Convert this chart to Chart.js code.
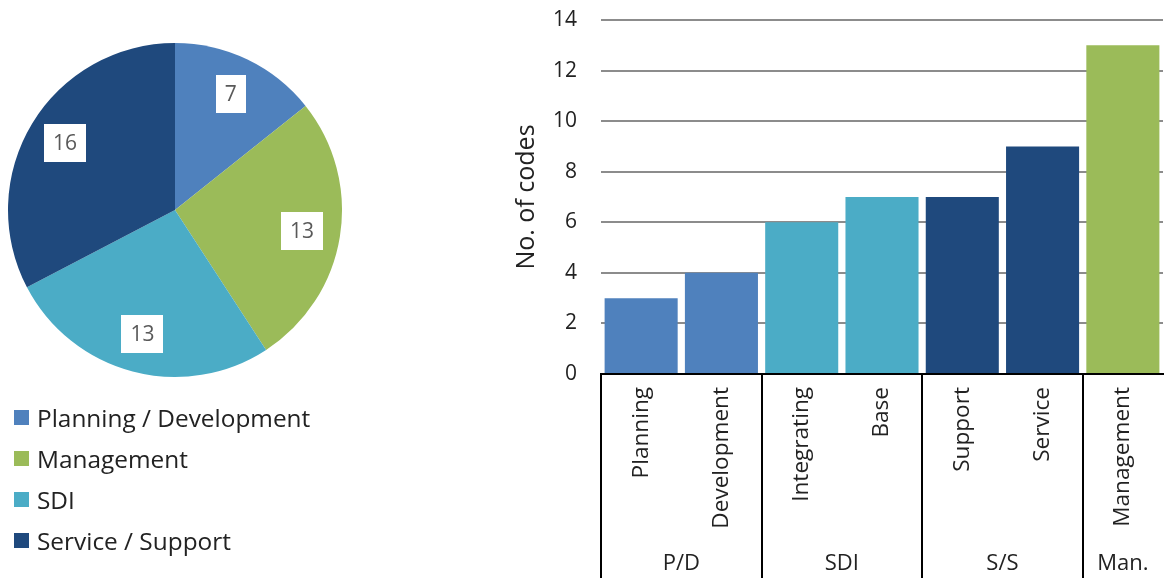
<!DOCTYPE html>
<html>
<head>
<meta charset="utf-8">
<script src="https://cdn.jsdelivr.net/npm/chart.js@4.4.1/dist/chart.umd.min.js"></script>
<style>
  html, body { margin: 0; padding: 0; width: 1164px; height: 578px; overflow: hidden; background: #fff; }
  #pieBox { position: absolute; left: 0; top: 0; width: 350px; height: 420px; }
  #barBox { position: absolute; left: 490px; top: 0; width: 674px; height: 620px; }
  #legend { position: absolute; left: 14px; top: 397px; font-family: "Open Sans", sans-serif; font-size: 24.4px; color: #222; }
  .item { height: 41px; display: flex; align-items: center; white-space: nowrap; }
  .swatch { width: 15px; height: 15px; margin-right: 8px; flex: none; }
</style>
</head>
<body>
<div id="pieBox"><canvas id="pie" width="350" height="420"></canvas></div>
<div id="legend"></div>
<div id="barBox"><canvas id="bar" width="674" height="620"></canvas></div>
<script>
// Share of codes per theme
const themeLabels = ['Planning / Development', 'Management', 'SDI', 'Service / Support'];
const themeValues = [7, 13, 13, 16];
const themeColors = ['#4F81BD', '#9BBB59', '#4BACC6', '#1F497D'];

// Codes per sub-category
const codeLabels = ['Planning', 'Development', 'Integrating', 'Base', 'Support', 'Service', 'Management'];
const codeValues = [3, 4, 6, 7, 7, 9, 13];
const codeColors = ['#4F81BD', '#4F81BD', '#4BACC6', '#4BACC6', '#1F497D', '#1F497D', '#9BBB59'];

// Group row under the sub-category labels
const groupLabels = ['P/D', 'SDI', 'S/S', 'Man.'];
const groupSizes = [2, 2, 2, 1];

// Value axis
const yMin = 0, yMax = 14, yStep = 2;

const FONT = '"Open Sans", sans-serif';
const TEXT = '#222';

// group start indices and centre positions on the category scale
const groupStarts = [];
const groupCenters = [];
groupSizes.reduce((start, n) => {
  groupStarts.push(start);
  groupCenters.push(start + (n - 1) / 2);
  return start + n;
}, 0);

// white value boxes placed inside each slice
const sliceValueBoxes = {
  id: 'sliceValueBoxes',
  afterDatasetsDraw(chart) {
    const ctx = chart.ctx;
    const values = chart.data.datasets[0].data;
    ctx.save();
    ctx.font = '21px ' + FONT;
    ctx.textAlign = 'center';
    ctx.textBaseline = 'middle';
    chart.getDatasetMeta(0).data.forEach((arc, i) => {
      const p = arc.getProps(['x', 'y', 'startAngle', 'endAngle', 'outerRadius'], true);
      const mid = (p.startAngle + p.endAngle) / 2;
      const r = p.outerRadius * 0.77;
      const cx = p.x + Math.cos(mid) * r;
      const cy = p.y + Math.sin(mid) * r;
      const text = String(values[i]);
      const w = ctx.measureText(text).width + 18;
      const h = 38;
      ctx.fillStyle = '#fff';
      ctx.fillRect(Math.round(cx - w / 2), Math.round(cy - h / 2), Math.round(w), h);
      ctx.fillStyle = '#595959';
      ctx.fillText(text, cx, cy + 1);
    });
    ctx.restore();
  }
};

const pieChart = new Chart(document.getElementById('pie'), {
  type: 'pie',
  data: {
    labels: themeLabels,
    datasets: [{ data: themeValues, backgroundColor: themeColors, borderWidth: 0 }]
  },
  options: {
    responsive: false,
    animation: false,
    layout: { padding: { left: 8, right: 8, top: 43, bottom: 43 } },
    plugins: { legend: { display: false }, tooltip: { enabled: false } }
  },
  plugins: [sliceValueBoxes]
});

// legend list built from the pie's own legend items
const legendEl = document.getElementById('legend');
pieChart.options.plugins.legend.labels.generateLabels(pieChart).forEach(item => {
  const row = document.createElement('div');
  row.className = 'item';
  const sw = document.createElement('span');
  sw.className = 'swatch';
  sw.style.background = item.fillStyle;
  const label = document.createElement('span');
  label.textContent = item.text;
  row.appendChild(sw);
  row.appendChild(label);
  legendEl.appendChild(row);
});

// frame lines of the two-level category axis
const groupFrame = {
  id: 'groupFrame',
  afterDraw(chart) {
    const { ctx, chartArea } = chart;
    const x = chart.scales.x;
    ctx.save();
    ctx.strokeStyle = '#000';
    ctx.lineWidth = 2;
    ctx.beginPath();
    ctx.moveTo(chartArea.left - 1, chartArea.bottom);
    ctx.lineTo(chartArea.right + 1, chartArea.bottom);
    groupStarts.forEach(s => {
      const px = Math.round(x.getPixelForValue(s - 0.5));
      ctx.moveTo(px, chartArea.bottom - 1);
      ctx.lineTo(px, chart.height);
    });
    ctx.stroke();
    ctx.restore();
  }
};

// keep the horizontal axes from reserving side space for their labels
function noSidePadding(s) {
  s.paddingLeft = 0;
  s.paddingRight = 0;
}

new Chart(document.getElementById('bar'), {
  type: 'bar',
  data: {
    labels: codeLabels,
    datasets: [{
      data: codeValues,
      backgroundColor: codeColors,
      borderWidth: 0,
      barPercentage: 0.91,
      categoryPercentage: 1
    }]
  },
  options: {
    responsive: false,
    animation: false,
    layout: { padding: { top: 20, right: 1, left: 0, bottom: 26 } },
    plugins: { legend: { display: false }, tooltip: { enabled: false } },
    scales: {
      y: {
        min: yMin,
        max: yMax,
        ticks: { stepSize: yStep, padding: 24, color: TEXT, font: { family: FONT, size: 21 } },
        grid: { color: '#8c8c8c', lineWidth: 2, drawTicks: false },
        border: { display: false },
        title: { display: true, text: 'No. of codes', color: TEXT, font: { family: FONT, size: 25 }, padding: { top: 22, bottom: 0 } },
        afterFit(s) { s.width = 111; s.paddingTop = 0; }
      },
      x: {
        position: 'bottom',
        grid: { display: false, drawTicks: false },
        border: { display: false },
        ticks: { minRotation: 90, maxRotation: 90, autoSkip: false, padding: 13, color: TEXT, font: { family: FONT, size: 22.6 } },
        afterFit(s) { s.height = 160; noSidePadding(s); }
      },
      xg: {
        type: 'linear',
        position: 'bottom',
        offset: false,
        min: -0.5,
        max: codeLabels.length - 0.5,
        afterBuildTicks(s) { s.ticks = groupCenters.map(v => ({ value: v })); },
        ticks: {
          autoSkip: false,
          maxRotation: 0,
          padding: 17,
          color: TEXT,
          font: { family: FONT, size: 22 },
          callback: (v, i) => groupLabels[i]
        },
        grid: { display: false, drawTicks: false },
        border: { display: false },
        afterFit(s) { s.height = 60; noSidePadding(s); }
      }
    }
  },
  plugins: [groupFrame]
});
</script>
</body>
</html>
